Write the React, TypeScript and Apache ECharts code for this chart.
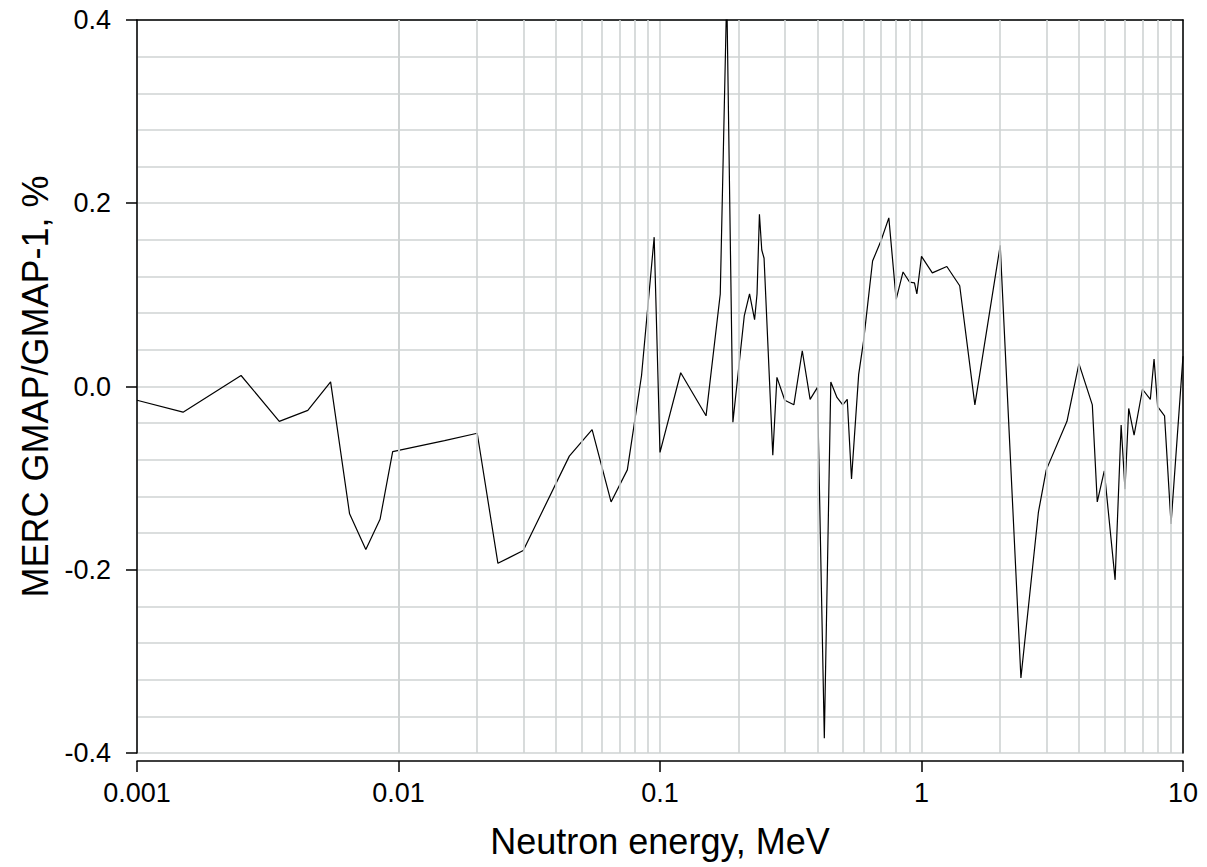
import React, { useEffect, useRef } from "react";
import * as echarts from "echarts";

// Neutron energy, MeV
const energies: number[] = [
  0.001, 0.0015, 0.0025, 0.0035, 0.0045, 0.0055, 0.0065, 0.0075, 0.0085, 0.0095,
  0.015, 0.02, 0.024, 0.03, 0.045, 0.055, 0.065, 0.075, 0.085, 0.095,
  0.1, 0.12, 0.15, 0.17, 0.18, 0.19, 0.21, 0.22, 0.23, 0.235,
  0.24, 0.245, 0.25, 0.27, 0.28, 0.3, 0.325, 0.35, 0.375, 0.4,
  0.425, 0.45, 0.475, 0.5, 0.52, 0.54, 0.575, 0.6, 0.65, 0.7,
  0.75, 0.8, 0.85, 0.9, 0.94, 0.96, 1.0, 1.1, 1.25, 1.4,
  1.6, 2.0, 2.4, 2.8, 3.0, 3.6, 4.0, 4.5, 4.7, 5.0,
  5.5, 5.8, 6.0, 6.2, 6.5, 7.0, 7.5, 7.75, 8.0, 8.5,
  9.0, 10.0,
];

// MERC GMAP/GMAP-1, %
const ratios: number[] = [
  -0.015, -0.028, 0.012, -0.038, -0.026, 0.005, -0.139, -0.178, -0.145, -0.071,
  -0.059, -0.051, -0.193, -0.179, -0.076, -0.047, -0.126, -0.091, 0.012, 0.163,
  -0.072, 0.015, -0.032, 0.101, 0.43, -0.039, 0.077, 0.101, 0.073, 0.101,
  0.188, 0.149, 0.14, -0.075, 0.01, -0.015, -0.02, 0.039, -0.014, -0.001,
  -0.384, 0.005, -0.012, -0.02, -0.014, -0.101, 0.013, 0.049, 0.137, 0.159,
  0.184, 0.095, 0.125, 0.114, 0.113, 0.101, 0.142, 0.124, 0.131, 0.11,
  -0.02, 0.154, -0.318, -0.137, -0.091, -0.038, 0.025, -0.02, -0.126, -0.092,
  -0.211, -0.042, -0.112, -0.024, -0.053, -0.003, -0.014, 0.03, -0.022, -0.032,
  -0.15, 0.033,
];

const xTickValues: number[] = [0.001, 0.01, 0.1, 1, 10];
const xTickLabels: string[] = ["0.001", "0.01", "0.1", "1", "10"];
const minorMultipliers: number[] = [2, 3, 4, 5, 6, 7, 8, 9];
const decades: number[] = [0.001, 0.01, 0.1, 1];

const GRID = "#cfd3d3";
const FONT = "Liberation Sans, Arial, sans-serif";

export default function App() {
  const ref = useRef<HTMLDivElement>(null);
  useEffect(() => {
    if (!ref.current) return;
    const chart = echarts.init(ref.current, undefined, { renderer: "svg" });
    const minorLines: { xAxis: number }[] = [];
    decades.forEach((d) => minorMultipliers.forEach((m) => minorLines.push({ xAxis: +(d * m).toPrecision(3) })));
    const data = energies.map((e, i) => [e, ratios[i]]);
    chart.setOption({
      animation: false,
      backgroundColor: "#ffffff",
      grid: { left: 137, top: 20, right: 24, bottom: 114, containLabel: false },
      xAxis: [
        {
          type: "log",
          logBase: 10,
          min: 0.001,
          max: 10,
          offset: 8,
          name: "Neutron energy, MeV",
          nameLocation: "middle",
          nameGap: 62,
          nameTextStyle: { fontFamily: FONT, fontSize: 36, color: "#000" },
          axisLine: { show: true, onZero: false, lineStyle: { color: "#000", width: 1.5 } },
          axisTick: { show: true, length: 11, inside: false, lineStyle: { color: "#000", width: 1.5 } },
          axisLabel: {
            fontFamily: FONT,
            fontSize: 27,
            color: "#000",
            margin: 18,
            formatter: (v: number) => {
              const i = xTickValues.findIndex((t) => Math.abs(Math.log10(t) - Math.log10(v)) < 1e-6);
              return i >= 0 ? xTickLabels[i] : "";
            },
          },
          splitLine: { show: true, lineStyle: { color: GRID, width: 1.6 } },
          minorTick: { show: false },
          minorSplitLine: { show: false },
        },
        {
          type: "log",
          logBase: 10,
          min: 0.001,
          max: 10,
          position: "top",
          axisLine: { show: true, onZero: false, lineStyle: { color: "#000", width: 1.5 } },
          axisTick: { show: false },
          axisLabel: { show: false },
          splitLine: { show: false },
        },
      ],
      yAxis: [
        {
          type: "value",
          min: -0.4,
          max: 0.4,
          interval: 0.2,
          name: "MERC GMAP/GMAP-1, %",
          nameLocation: "middle",
          nameGap: 84,
          nameRotate: 90,
          nameTextStyle: { fontFamily: FONT, fontSize: 36, color: "#000" },
          axisLine: { show: true, onZero: false, lineStyle: { color: "#000", width: 1.5 } },
          axisTick: { show: true, length: 11, inside: false, lineStyle: { color: "#000", width: 1.5 } },
          axisLabel: {
            fontFamily: FONT,
            fontSize: 27,
            color: "#000",
            margin: 26,
            formatter: (v: number) => (Math.abs(v) < 1e-9 ? "0.0" : v.toFixed(1)),
          },
          splitLine: { show: true, lineStyle: { color: GRID, width: 1.6 } },
          minorTick: { show: false, splitNumber: 5 },
          minorSplitLine: { show: true, lineStyle: { color: GRID, width: 1.6 } },
        },
        {
          type: "value",
          min: -0.4,
          max: 0.4,
          position: "right",
          axisLine: { show: true, onZero: false, lineStyle: { color: "#000", width: 1.5 } },
          axisTick: { show: false },
          axisLabel: { show: false },
          splitLine: { show: false },
        },
      ],
      series: [
        {
          type: "line",
          data: [],
          z: 1,
          silent: true,
          markLine: {
            silent: true,
            symbol: "none",
            label: { show: false },
            lineStyle: { color: GRID, width: 1.6, type: "solid" },
            data: minorLines,
          },
        },
        {
          type: "line",
          data,
          z: 3,
          showSymbol: false,
          symbol: "none",
          clip: true,
          lineStyle: { color: "#000", width: 1.2 },
        },
      ],
    });
    return () => chart.dispose();
  }, []);
  return <div ref={ref} style={{ position: "absolute", left: 0, top: 0, width: 1207, height: 867 }} />;
}
